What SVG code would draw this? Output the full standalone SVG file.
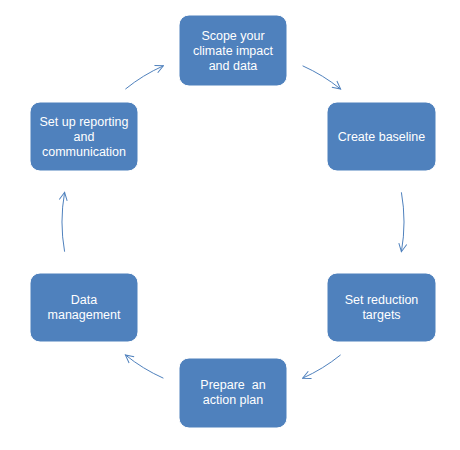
<svg xmlns="http://www.w3.org/2000/svg" width="460" height="450" viewBox="0 0 460 450">
<style>
.box{fill:#4F81BD;stroke:#ffffff;stroke-width:1}
.lbl{fill:#ffffff;font-family:"Liberation Sans",Arial,sans-serif;font-size:12.5px;text-anchor:middle}
.arc{fill:none;stroke:#4F81BD;stroke-width:1}
</style>
<defs>
<marker id="ah" viewBox="0 0 10 10" refX="9" refY="5" markerWidth="10" markerHeight="10" markerUnits="userSpaceOnUse" orient="auto">
<path d="M1,1 L9,5 L1,9" fill="none" stroke="#4F81BD" stroke-width="1"/>
</marker>
</defs>
<rect width="460" height="450" fill="#ffffff"/>
<g id="connectors">
<path class="arc" marker-end="url(#ah)" d="M302.6,65.8 A171,171 0 0 1 340.6,89.1"/>
<path class="arc" marker-end="url(#ah)" d="M401.4,192.3 A171,171 0 0 1 401.4,251.7"/>
<path class="arc" marker-end="url(#ah)" d="M340.6,354.9 A171,171 0 0 1 302.6,378.2"/>
<path class="arc" marker-end="url(#ah)" d="M163.4,378.2 A171,171 0 0 1 125.4,354.9"/>
<path class="arc" marker-end="url(#ah)" d="M64.6,251.7 A171,171 0 0 1 64.6,192.3"/>
<path class="arc" marker-end="url(#ah)" d="M125.4,89.1 A171,171 0 0 1 163.4,65.8"/>
</g>
<g id="node-scope">
<rect class="box" x="179" y="15" width="108" height="71" rx="10"/>
<text class="lbl" x="233" y="40">Scope your</text>
<text class="lbl" x="233" y="55">climate impact</text>
<text class="lbl" x="233" y="70">and data</text>
</g>
<g id="node-baseline">
<rect class="box" x="327" y="102" width="109" height="69" rx="10"/>
<text class="lbl" x="381.5" y="141">Create baseline</text>
</g>
<g id="node-targets">
<rect class="box" x="327" y="273" width="109" height="69" rx="10"/>
<text class="lbl" x="381.5" y="303.5">Set reduction</text>
<text class="lbl" x="381.5" y="318.5">targets</text>
</g>
<g id="node-plan">
<rect class="box" x="179" y="358" width="108" height="70" rx="10"/>
<text class="lbl" x="233" y="389" xml:space="preserve">Prepare  an</text>
<text class="lbl" x="233" y="404">action plan</text>
</g>
<g id="node-data">
<rect class="box" x="30" y="273" width="108" height="69" rx="10"/>
<text class="lbl" x="84" y="303.5">Data</text>
<text class="lbl" x="84" y="318.5">management</text>
</g>
<g id="node-reporting">
<rect class="box" x="30" y="102" width="108" height="69" rx="10"/>
<text class="lbl" x="84" y="126">Set up reporting</text>
<text class="lbl" x="84" y="141">and</text>
<text class="lbl" x="84" y="156">communication</text>
</g>
</svg>
